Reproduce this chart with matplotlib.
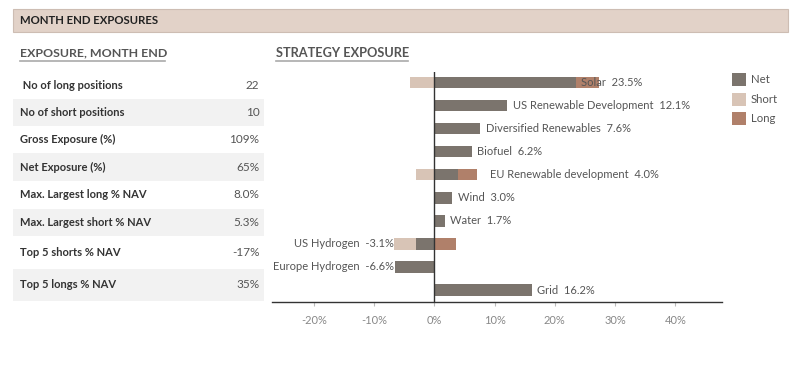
import matplotlib
matplotlib.use("Agg")
import matplotlib.pyplot as plt
from matplotlib.patches import Rectangle

plt.rcParams['font.family'] = ['Lato', 'DejaVu Sans']

# ---- data ----
table_labels = [" No of long positions", "No of short positions", "Gross Exposure (%)",
                "Net Exposure (%)", "Max. Largest long % NAV", "Max. Largest short % NAV",
                "Top 5 shorts % NAV", "Top 5 longs % NAV"]
table_values = ["22", "10", "109%", "65%", "8.0%", "5.3%", "-17%", "35%"]

strategies = ["Solar", "US Renewable Development", "Diversified Renewables", "Biofuel",
              "EU Renewable development", "Wind", "Water", "US Hydrogen",
              "Europe Hydrogen", "Grid"]
net = [23.5, 12.1, 7.6, 6.2, 4.0, 3.0, 1.7, -3.1, -6.6, 16.2]
short = [-4.0, 0, 0, 0, -3.1, 0, 0, -6.7, 0, 0]
long_ = [27.4, 0, 0, 0, 7.1, 0, 0, 3.6, 0, 0]
xticks = [-20, -10, 0, 10, 20, 30, 40]

C_NET = "#7b746d"
C_SHORT = "#d8c4b6"
C_LONG = "#b0806a"

W, H = 800, 386
fig = plt.figure(figsize=(W / 100, H / 100), dpi=100)

# ---- overlay axes in pixel coordinates ----
bg = fig.add_axes([0, 0, 1, 1])
bg.set_xlim(0, W)
bg.set_ylim(H, 0)
bg.axis("off")

# header band
bg.add_patch(Rectangle((13, 8.5), 775, 23, facecolor="#e2d2c8", edgecolor="#cdbdb3", lw=0.8))
bg.text(20, 20, "MONTH END EXPOSURES", fontsize=8.2, fontweight="bold", color="#222222",
        va="center", ha="left")

# section titles
bg.text(20, 53, "EXPOSURE, MONTH END", fontsize=8.9, fontweight="bold", color="#555555",
        va="center", ha="left")
bg.plot([20, 165], [60.5, 60.5], color="#aaaaaa", lw=1.2)
t = bg.text(276, 53, "STRATEGY EXPOSURE", fontsize=9.2, fontweight="bold", color="#555555",
            va="center", ha="left")
clip = Rectangle((270, 40), 138, 30, transform=bg.transData, visible=False)
bg.add_patch(clip)
t.set_clip_path(clip)
bg.plot([276, 407.7], [60.5, 60.5], color="#aaaaaa", lw=1.2)

# table
bounds = [72, 99.3, 125.7, 153.3, 181, 209, 236, 269, 300.7]
for i, (lab, val) in enumerate(zip(table_labels, table_values)):
    y0, y1 = bounds[i], bounds[i + 1]
    if i % 2 == 1:
        bg.add_patch(Rectangle((13.3, y0), 250.7, y1 - y0, facecolor="#f2f2f2", edgecolor="none"))
    yc = (y0 + y1) / 2
    bg.text(20, yc, lab, fontsize=8, fontweight="bold", color="#333333", va="center", ha="left")
    bg.text(259.5, yc, val, fontsize=8.5, color="#555555", va="center", ha="right")

# legend
for k, (name, col) in enumerate([("Net", C_NET), ("Short", C_SHORT), ("Long", C_LONG)]):
    yc = [79.3, 99.3, 118.7][k]
    bg.add_patch(Rectangle((732.3, yc - 6.5), 13.4, 13, facecolor=col, edgecolor="none"))
    bg.text(750.5, yc, name, fontsize=8.2, color="#555555", va="center", ha="left")

# ---- chart axes ----
left, right, top, bottom = 271.7, 721.7, 71.7, 302.3
ax = fig.add_axes([left / W, (H - bottom) / H, (right - left) / W, (bottom - top) / H])
ax.patch.set_alpha(0)
n = len(strategies)
ys = list(range(n))
bh = 0.5
ax.barh(ys, short, height=bh, color=C_SHORT, zorder=2)
ax.barh(ys, long_, height=bh, color=C_LONG, zorder=2)
ax.barh(ys, net, height=bh, color=C_NET, zorder=3)

for i, (name, v) in enumerate(zip(strategies, net)):
    txt = f"{name}  {v:.1f}%"
    if v >= 0:
        x = v + 0.9
        if long_[i] > v and long_[i] - v < 3.5:
            x = long_[i] + 2.2
        ax.text(x, i, txt, fontsize=8, color="#555555", va="center", ha="left", zorder=4)
    else:
        x = min(v, short[i]) - 0.1
        ax.text(x, i, txt, fontsize=8, color="#555555", va="center", ha="right", zorder=4)

ax.axvline(0, color="#333333", lw=1, zorder=5)
ax.set_xlim(-27.0, 47.7)
ax.set_ylim(n - 1 + 0.53, -0.46)
ax.set_xticks(xticks)
ax.set_xticklabels([f"{x}%" for x in xticks], fontsize=8, color="#888888")
ax.tick_params(axis="x", length=3, width=0.8, color="#bbbbbb", pad=6)
ax.set_yticks([])
for s in ["top", "right", "left"]:
    ax.spines[s].set_visible(False)
ax.spines["bottom"].set_color("#333333")
ax.spines["bottom"].set_linewidth(1)

fig.savefig("out.png", dpi=100)
